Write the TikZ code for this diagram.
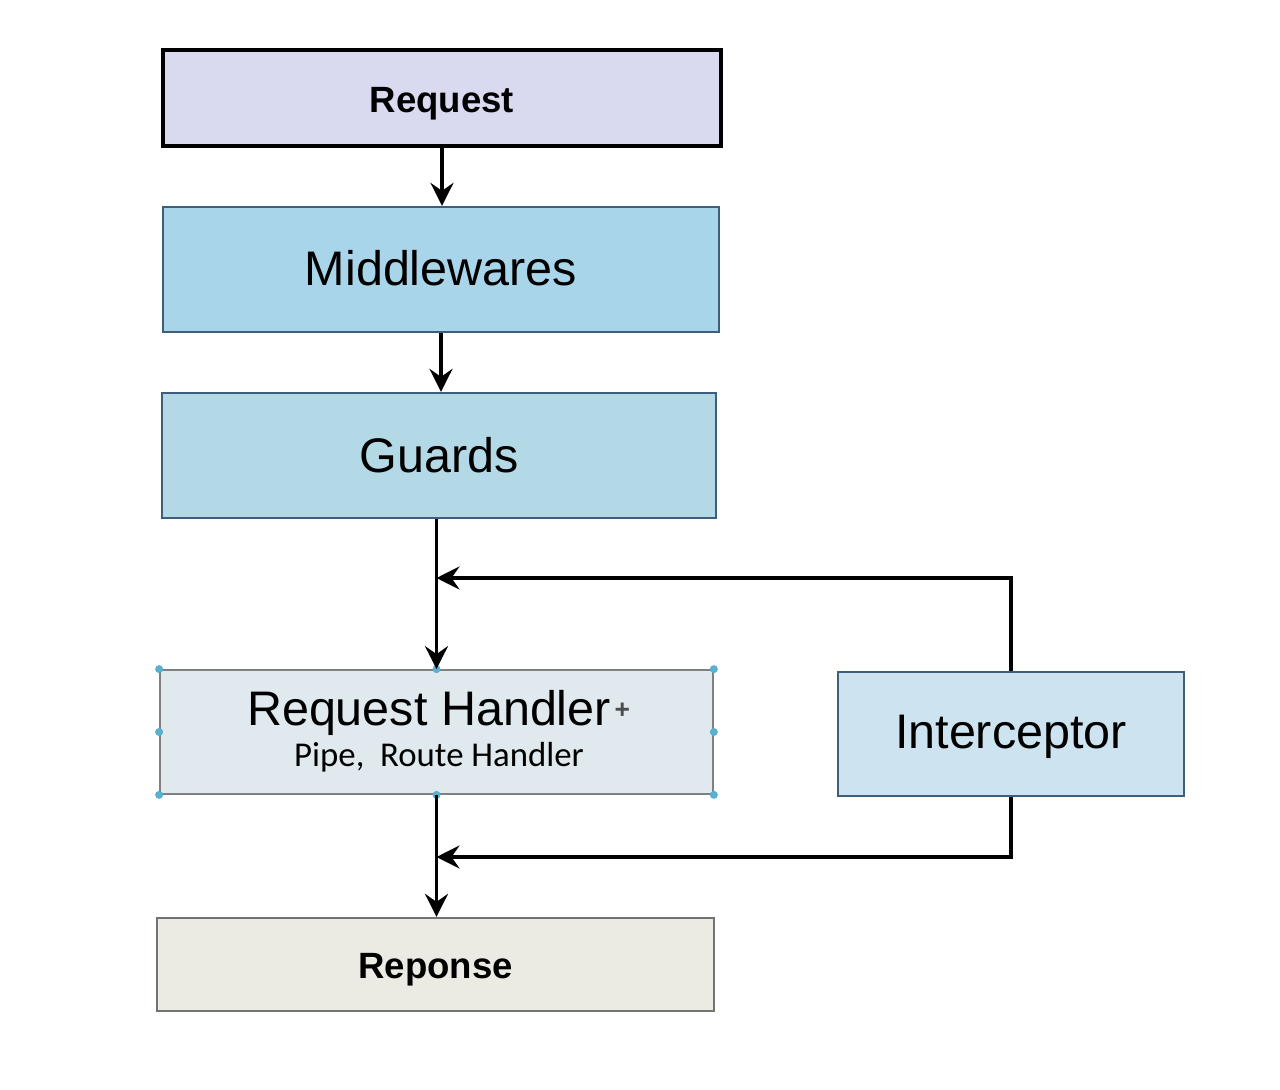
\documentclass[tikz,border=0pt]{standalone}
\usepackage{fontspec}
\setmainfont{Liberation Sans}
\newfontfamily\calfont{Carlito}
\usepackage{tikz}
\usetikzlibrary{calc,positioning}
\usetikzlibrary{arrows.meta}
\tikzset{>={Stealth[width=4.6mm,length=4.6mm,inset=1.6mm]}}

\definecolor{reqfill}{HTML}{D9DAF0}
\definecolor{midfill}{HTML}{A9D5EA}
\definecolor{grdfill}{HTML}{B3D9E7}
\definecolor{hdlfill}{HTML}{DFE9EE}
\definecolor{icpfill}{HTML}{CDE4F0}
\definecolor{resfill}{HTML}{EBEBE3}
\definecolor{bluedge}{HTML}{3E5E7E}
\definecolor{handle}{HTML}{5AB0D0}

\begin{document}
\begin{tikzpicture}
      \useasboundingbox (0,0) rectangle (25.6,-21.8);
      \begin{scope}
        \tikzstyle{sbox} = [rectangle, inner sep = 0pt, align=center]
        \tikzstyle{bigtxt} = [inner sep = 0pt, font=\fontsize{27.6}{30}\selectfont]
        \tikzstyle{boldtxt} = [inner sep = 0pt, font=\bfseries\fontsize{20.8}{24}\selectfont]
        \tikzstyle{hnd} = [circle, fill=handle, inner sep = 0pt, minimum size = 1.6mm]
        \tikzstyle{flow} = [->, draw, line width=2pt]

        \node[sbox, draw=black, line width=2pt, fill=reqfill, minimum width=11.16cm, minimum height=1.92cm] (req) at (8.84,-1.96) {};
        \node[boldtxt] at ($(req)+(0,-0.12)$) {Request};
        \node[sbox, draw=bluedge, line width=1.3pt, fill=midfill, minimum width=11.12cm, minimum height=2.5cm] (mid) at (8.82,-5.39) {};
        \node[bigtxt] at ($(mid)+(0,0.02)$) {Middlewares};
        \node[sbox, draw=bluedge, line width=1.3pt, fill=grdfill, minimum width=11.08cm, minimum height=2.5cm] (grd) at (8.78,-9.11) {};
        \node[bigtxt] at ($(grd)+(0,0)$) {Guards};

        \node[sbox, draw=gray, line width=1pt, fill=hdlfill, minimum width=11.06cm, minimum height=2.48cm] (hdl) at (8.73,-14.64) {};
        \node[bigtxt] (hdlt) at ($(hdl)+(-0.15,0.38)$) {Request Handler};
        \node[inner sep = 0pt, font=\bfseries\fontsize{15}{15}\selectfont, text=black!70, right=0.06cm of hdlt, yshift=0.05cm] (hdlp) {+};
        \node[inner sep = 0pt, font=\calfont\fontsize{19.8}{22}\selectfont] (hdlsub) at ($(hdl)+(0.05,-0.5)$) {Pipe,\ \ Route Handler};
        \foreach \a in {north west,north,north east,west,east,south west,south,south east}
          \node[hnd] at (hdl.\a) {};

        \node[sbox, draw=bluedge, line width=1.3pt, fill=icpfill, minimum width=6.92cm, minimum height=2.48cm] (icp) at (20.22,-14.68) {};
        \node[bigtxt] at ($(icp)+(0,-0.05)$) {Interceptor};
        \node[sbox, draw=black!55, line width=1.3pt, fill=resfill, minimum width=11.14cm, minimum height=1.86cm] (res) at (8.71,-19.29) {};
        \node[boldtxt] at ($(res)+(0,-0.1)$) {Reponse};

        \coordinate (jtop) at (hdl.north |- 0,-11.56);
        \coordinate (jbot) at (hdl.south |- 0,-17.14);

        \draw[flow] (req.south) -- (req.south |- mid.north);
        \draw[flow] (mid.south) -- (mid.south |- grd.north);
        \draw[flow] (hdl.north |- grd.south) -- (hdl.north);
        \draw[flow] (hdl.south) -- (res.north -| hdl.south);
        \draw[flow] (icp.north) |- (jtop);
        \draw[flow] (icp.south) |- (jbot);
      \end{scope}
\end{tikzpicture}
\end{document}
